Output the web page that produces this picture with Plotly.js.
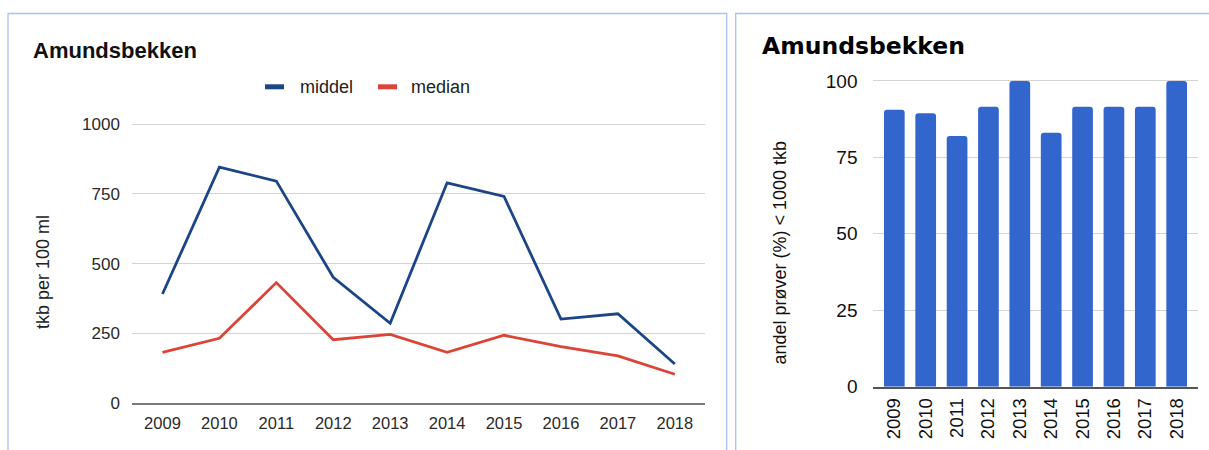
<!DOCTYPE html>
<html>
<head>
<meta charset="utf-8">
<script src="https://cdn.plot.ly/plotly-3.0.1.min.js"></script>
<style>
  html, body { margin: 0; padding: 0; background: #ffffff; }
  #chart { width: 1209px; height: 450px; }
</style>
</head>
<body>
<div id="chart"></div>
<script>
// ---- data ----
var years = ['2009', '2010', '2011', '2012', '2013', '2014', '2015', '2016', '2017', '2018'];
var seriesNames = ['middel', 'median'];
var middel = [391, 846, 796, 451, 286, 790, 741, 301, 320, 140];
var median = [182, 232, 432, 227, 246, 182, 243, 202, 169, 103];
var andelUnder1000 = [90.6, 89.4, 82, 91.6, 100, 83.1, 91.6, 91.6, 91.6, 100];
var chartTitle = 'Amundsbekken';
var leftYTitle = 'tkb per 100 ml';
var rightYTitle = 'andel prøver (%) < 1000 tkb';
var leftYTicks = [0, 250, 500, 750, 1000];
var rightYTicks = [0, 25, 50, 75, 100];

// ---- layout helpers (pixel -> paper) ----
var W = 1209, H = 450;
function px(x) { return x / W; }
function py(y) { return 1 - y / H; }

var colors = ['#1c4587', '#db4437'];
var barColor = '#3366cc';
var gridColor = '#d4d4d4';
var font = 'Liberation Sans, Arial, sans-serif';

var traces = [
  {
    type: 'scatter', mode: 'lines', name: seriesNames[0],
    x: years, y: middel, xaxis: 'x', yaxis: 'y',
    line: { color: colors[0], width: 2.8 }, showlegend: false
  },
  {
    type: 'scatter', mode: 'lines', name: seriesNames[1],
    x: years, y: median, xaxis: 'x', yaxis: 'y',
    line: { color: colors[1], width: 2.8 }, showlegend: false
  },
  {
    type: 'bar', name: 'andel',
    x: years, y: andelUnder1000, xaxis: 'x2', yaxis: 'y2',
    marker: { color: barColor, cornerradius: 3 }, showlegend: false
  }
];

// custom legend (swatch + label) built from series names
var legendSwatchX = [265, 378];
var legendTextX = [298, 409];
var shapes = [];
var annotations = [];
seriesNames.forEach(function (name, i) {
  shapes.push({
    type: 'line', xref: 'paper', yref: 'paper',
    x0: px(legendSwatchX[i]), x1: px(legendSwatchX[i] + 19),
    y0: py(86.8), y1: py(86.8),
    line: { color: colors[i], width: 5 }
  });
  annotations.push({
    xref: 'paper', yref: 'paper', x: px(legendTextX[i]), y: py(87),
    xanchor: 'left', yanchor: 'middle', showarrow: false,
    text: name, font: { family: font, size: 18, color: '#222' }
  });
});

// panel frames
shapes.push({
  type: 'rect', xref: 'paper', yref: 'paper',
  x0: px(8), x1: px(726.7), y0: -0.2, y1: py(13.5),
  line: { color: '#a8c1f3', width: 1.3 }, layer: 'below'
});
shapes.push({
  type: 'rect', xref: 'paper', yref: 'paper',
  x0: px(735.7), x1: 1.2, y0: -0.2, y1: py(13.5),
  line: { color: '#a8c1f3', width: 1.3 }, layer: 'below'
});

// titles
annotations.push({
  xref: 'paper', yref: 'paper', x: px(31), y: py(50),
  xanchor: 'left', yanchor: 'middle', showarrow: false,
  text: '<b>' + chartTitle + '</b>',
  font: { family: font, size: 22, color: '#111' }
});
annotations.push({
  xref: 'paper', yref: 'paper', x: px(760), y: py(46),
  xanchor: 'left', yanchor: 'middle', showarrow: false,
  text: '<b>' + chartTitle + '</b>',
  font: { family: 'DejaVu Sans, sans-serif', size: 23.5, color: '#000' }
});
// y-axis titles
annotations.push({
  xref: 'paper', yref: 'paper', x: px(43), y: py(272),
  xanchor: 'center', yanchor: 'middle', showarrow: false, textangle: -90,
  text: leftYTitle, font: { family: font, size: 18, color: '#222' }
});
annotations.push({
  xref: 'paper', yref: 'paper', x: px(779), y: py(252.5),
  xanchor: 'center', yanchor: 'middle', showarrow: false, textangle: -90,
  text: rightYTitle, font: { family: font, size: 18, color: '#111' }
});

var layout = {
  width: W, height: H,
  margin: { l: 0, r: 0, t: 0, b: 0, pad: 0 },
  paper_bgcolor: '#ffffff', plot_bgcolor: '#ffffff',
  showlegend: false,
  bargap: 0.34,
  xaxis: {
    domain: [px(132.3), px(705)], anchor: 'y',
    type: 'category', range: [-0.53, 9.53],
    showgrid: false, zeroline: false,
    showline: true, linecolor: '#7a7a7a', linewidth: 2,
    ticks: 'outside', ticklen: 4, tickcolor: 'rgba(0,0,0,0)',
    tickfont: { family: font, size: 16.5, color: '#2a2a2a' }
  },
  yaxis: {
    domain: [py(403), py(121.5)], anchor: 'x',
    range: [0, 1010], tickvals: leftYTicks, ticktext: leftYTicks.map(String),
    showgrid: true, gridcolor: gridColor, gridwidth: 1,
    zeroline: false, showline: false,
    ticks: 'outside', ticklen: 8, tickcolor: 'rgba(0,0,0,0)',
    tickfont: { family: font, size: 17, color: '#2a2a2a' }
  },
  xaxis2: {
    domain: [px(873.3), px(1197.7)], anchor: 'y2',
    type: 'category', range: [-0.67, 9.67],
    showgrid: false, zeroline: false,
    showline: true, linecolor: '#555555', linewidth: 2,
    tickangle: -90,
    ticks: 'outside', ticklen: 2, tickcolor: 'rgba(0,0,0,0)',
    tickfont: { family: font, size: 18.5, color: '#111' }
  },
  yaxis2: {
    domain: [py(386.7), py(77.9)], anchor: 'x2',
    range: [0, 101], tickvals: rightYTicks, ticktext: rightYTicks.map(String),
    showgrid: true, gridcolor: gridColor, gridwidth: 1,
    zeroline: false, showline: false,
    ticks: 'outside', ticklen: 11, tickcolor: 'rgba(0,0,0,0)',
    tickfont: { family: font, size: 19, color: '#111' }
  },
  shapes: shapes,
  annotations: annotations
};

Plotly.newPlot('chart', traces, layout, { displayModeBar: false, responsive: false });
</script>
</body>
</html>
